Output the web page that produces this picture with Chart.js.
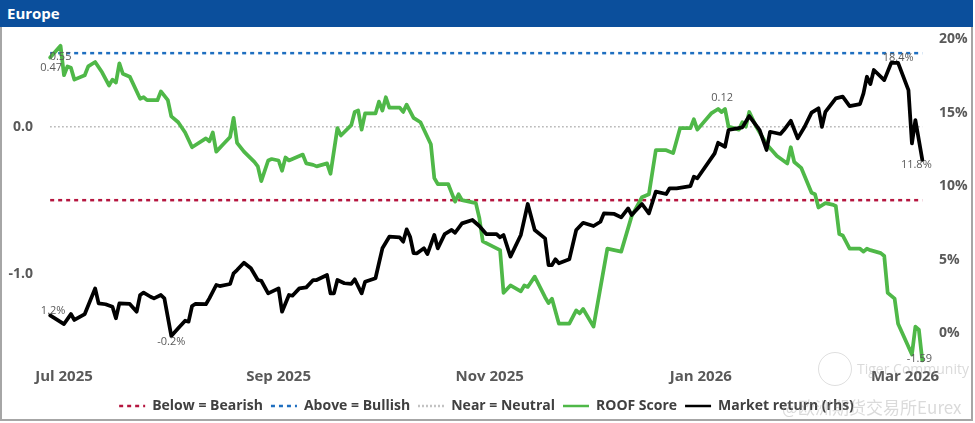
<!DOCTYPE html>
<html>
<head>
<meta charset="utf-8">
<script src="https://cdn.jsdelivr.net/npm/chart.js@4.4.1/dist/chart.umd.min.js"></script>
<style>
  body { margin: 0; background: #fff; }
  #wrap { position: relative; width: 975px; height: 423px; background: #fff; overflow: hidden; }
  #title { position: absolute; left: 0; top: 0; width: 973px; height: 27px; background: #0b4f9c;
           color: #fff; font: bold 15px "Open Sans", sans-serif; line-height: 27px; padding-left: 7px; box-sizing: border-box; }
  #frame { position: absolute; left: 0; top: 27px; width: 973px; height: 394px; border: 2px solid #a6a6a6;
           border-top: none; box-sizing: border-box; }
  #box { position: absolute; left: 2px; top: 27px; width: 969px; height: 396px; }
  #logo { position: absolute; left: 818px; top: 352px; width: 32px; height: 32px; border: 1.5px solid rgba(150,150,150,0.3); border-radius: 50%; }
  #wm1 { position: absolute; left: 857px; top: 359px; white-space: nowrap; font: 14px "Open Sans", sans-serif; color: rgba(150,150,150,0.35); }
  #wm2 { position: absolute; left: 782px; top: 394px; white-space: nowrap; font: 17px "Noto Sans CJK SC", sans-serif; color: rgba(150,150,150,0.35); }
</style>
</head>
<body>
<div id="wrap">
  <div id="title">Europe</div>
  <div id="frame"></div>
  <div id="box"><canvas id="roofChart"></canvas></div>
  <div id="logo"></div>
  <div id="wm1">Tiger Community</div>
  <div id="wm2">@欧洲期货交易所Eurex</div>
</div>
<script>
// days counted from 1 Jul 2025
const roofDays = [-4,-1,0,1,2,3,6,7,9,11,13,14,15,16,17,19,22,23,24,27,28,30,31,33,35,37,41,42,43,44,46,48,49,50,52,55,56,57,59,60,62,63,64,65,69,70,72,73,76,77,79,80,83,84,85,86,87,90,91,92,93,94,97,98,99,101,103,106,107,108,111,113,114,115,119,120,121,126,127,129,132,133,134,136,139,140,141,143,146,148,149,150,153,157,159,161,164,167,169,171,174,176,178,181,182,183,187,189,190,191,192,195,196,197,198,200,203,206,209,210,211,213,216,217,218,220,222,223,224,225,227,230,231,232,233,236,237,238,240,241,245,246,247,248];
const roofScore = [0.47,0.55,0.35,0.41,0.40,0.32,0.35,0.41,0.44,0.37,0.28,0.32,0.30,0.43,0.36,0.34,0.19,0.20,0.18,0.18,0.24,0.18,0.07,0.03,-0.04,-0.14,-0.08,-0.10,-0.04,-0.17,-0.12,-0.07,0.06,-0.11,-0.17,-0.24,-0.27,-0.37,-0.23,-0.22,-0.23,-0.30,-0.21,-0.23,-0.19,-0.25,-0.26,-0.27,-0.25,-0.32,-0.01,-0.06,0.01,0.10,0.11,-0.02,0.09,0.09,0.17,0.11,0.20,0.13,0.13,0.10,0.15,0.06,0.03,-0.12,-0.35,-0.39,-0.39,-0.51,-0.46,-0.50,-0.52,-0.62,-0.78,-0.84,-1.13,-1.08,-1.12,-1.08,-1.09,-1.02,-1.16,-1.20,-1.17,-1.34,-1.34,-1.25,-1.27,-1.24,-1.36,-0.83,-0.84,-0.85,-0.61,-0.48,-0.46,-0.16,-0.16,-0.18,-0.01,-0.01,0.05,-0.02,0.09,0.12,0.10,0.12,0.00,-0.02,0.03,0.00,0.10,0.00,-0.12,-0.20,-0.25,-0.14,-0.24,-0.28,-0.45,-0.46,-0.55,-0.52,-0.53,-0.54,-0.73,-0.74,-0.83,-0.83,-0.85,-0.83,-0.84,-0.86,-0.88,-1.13,-1.17,-1.34,-1.55,-1.36,-1.38,-1.59];

const mktDays = [-4,0,2,3,6,9,10,12,14,15,16,19,21,22,23,25,26,28,29,31,33,35,36,37,38,41,42,44,45,48,49,50,52,54,56,57,59,62,63,65,66,68,70,72,73,76,77,78,79,81,83,84,86,87,90,91,92,94,97,98,99,100,101,102,104,105,107,108,110,112,113,115,118,120,122,125,126,127,129,132,134,136,139,140,141,142,143,146,148,150,153,155,156,159,161,163,164,167,169,171,174,175,177,181,182,183,188,189,191,192,196,198,201,203,204,207,208,210,212,214,216,218,219,220,223,225,227,230,231,232,233,234,237,239,241,244,245,246,248];
const mktReturn = [1.2,0.61,1.29,0.89,1.29,3.04,2.02,1.96,1.79,1.00,2.02,1.98,1.45,2.59,2.75,2.47,2.36,2.59,2.36,-0.2,0.32,0.84,0.77,1.84,1.98,1.96,2.36,3.27,3.20,3.34,4.07,4.29,4.79,4.41,3.61,3.56,2.70,3.04,1.45,2.59,2.54,3.04,3.11,3.61,3.61,3.95,2.70,2.70,3.61,3.39,3.34,3.66,2.70,3.49,3.73,4.75,5.77,6.56,6.52,6.22,7.06,6.56,5.45,5.43,5.77,5.38,6.68,5.77,6.74,7.02,6.83,7.47,7.70,7.29,6.74,6.74,6.52,6.68,5.20,6.68,8.79,7.02,6.45,4.63,4.63,5.02,4.75,5.02,7.02,7.51,7.29,7.58,8.15,8.11,7.88,8.49,8.04,8.79,8.15,9.63,9.47,9.86,9.86,10.01,10.65,10.54,12.24,12.96,12.69,13.83,14.01,14.78,13.83,12.47,13.71,13.56,13.83,14.46,13.26,14.05,15.01,15.31,14.05,15.07,15.99,16.10,15.46,15.60,16.33,17.46,16.96,17.92,17.23,18.4,18.4,16.55,12.92,14.51,11.8];

const bearishLevel = -0.5;
const bullishLevel = 0.5;
const neutralLevel = 0;

const tickDays = [0, 62, 123, 184, 243];
const tickLabels = ['Jul 2025', 'Sep 2025', 'Nov 2025', 'Jan 2026', 'Mar 2026'];
const leftTicks = [0, -1];
const rightTicks = [0, 5, 10, 15, 20];

const firstDay = roofDays[0];
const lastDay = roofDays[roofDays.length - 1];
const flat = v => [{ x: firstDay, y: v }, { x: lastDay, y: v }];

const tickFont = { family: 'Open Sans', size: 14, weight: 'bold' };

// value labels drawn next to chosen points
const labelSpecs = [
  { ds: 3, i: 0, dx: 1, dy: 10, fmt: v => v.toFixed(2) },
  { ds: 3, i: 1, dx: 0, dy: 11, fmt: v => v.toFixed(2) },
  { ds: 3, i: 107, dx: 4, dy: -11, fmt: v => v.toFixed(2) },
  { ds: 3, i: 143, dx: -3, dy: -2, fmt: v => v.toFixed(2) },
  { ds: 4, i: 0, dx: 3, dy: -5, fmt: v => v.toFixed(1) + '%' },
  { ds: 4, i: 19, dx: 0, dy: 6, fmt: v => v.toFixed(1) + '%' },
  { ds: 4, i: 134, dx: 0, dy: -5, fmt: v => v.toFixed(1) + '%' },
  { ds: 4, i: 138, dx: -6, dy: 5, fmt: v => v.toFixed(1) + '%' }
];

const pointLabels = {
  id: 'pointLabels',
  afterDatasetsDraw(chart) {
    const ctx = chart.ctx;
    ctx.save();
    ctx.font = '11px "Open Sans"';
    ctx.fillStyle = '#595959';
    ctx.textAlign = 'center';
    ctx.textBaseline = 'middle';
    labelSpecs.forEach(s => {
      const pt = chart.getDatasetMeta(s.ds).data[s.i];
      const v = chart.data.datasets[s.ds].data[s.i].y;
      ctx.fillText(s.fmt(v), pt.x + s.dx, pt.y + s.dy);
    });
    ctx.restore();
  }
};

// keep tick labels from pushing the plot area in
const noPad = s => { s.paddingTop = 0; s.paddingBottom = 0; s.paddingLeft = 0; s.paddingRight = 0; };

const ctx = document.getElementById('roofChart').getContext('2d');
new Chart(ctx, {
  type: 'line',
  data: {
    datasets: [
      { label: 'Below = Bearish', data: flat(bearishLevel), yAxisID: 'y', borderColor: '#b5163f', borderWidth: 2.5, borderDash: [4, 4], borderCapStyle: 'butt', order: 4 },
      { label: 'Above = Bullish', data: flat(bullishLevel), yAxisID: 'y', borderColor: '#1f6fc0', borderWidth: 2.5, borderDash: [4, 4], borderCapStyle: 'butt', order: 3 },
      { label: 'Near = Neutral', data: flat(neutralLevel), yAxisID: 'y', borderColor: '#b0b0b0', borderWidth: 1.5, borderDash: [1.5, 2.5], borderCapStyle: 'butt', order: 2 },
      { label: 'ROOF Score', data: roofDays.map((d, i) => ({ x: d, y: roofScore[i] })), yAxisID: 'y', borderColor: '#4fb848', borderWidth: 3.75, order: 1 },
      { label: 'Market return (rhs)', data: mktDays.map((d, i) => ({ x: d, y: mktReturn[i] })), yAxisID: 'y1', borderColor: '#000000', borderWidth: 3.75, order: 0 }
    ]
  },
  options: {
    responsive: true,
    maintainAspectRatio: false,
    animation: false,
    elements: { point: { radius: 0 }, line: { tension: 0, borderJoinStyle: 'round', borderCapStyle: 'round' } },
    layout: { padding: { top: 6, left: 0, right: 0, bottom: 0 } },
    scales: {
      x: {
        type: 'linear', min: -8.09, max: 250.8,
        grid: { display: false, drawTicks: false }, border: { display: false },
        afterBuildTicks: s => { s.ticks = tickDays.map(v => ({ value: v })); },
        afterFit: s => { s.height = 26; noPad(s); },
        ticks: { autoSkip: false, maxRotation: 0, padding: 3, color: '#595959', font: { family: 'Open Sans', size: 15, weight: 'bold' },
                 callback: v => tickLabels[tickDays.indexOf(v)] }
      },
      y: {
        position: 'left', min: -1.621, max: 0.637,
        grid: { display: false, drawTicks: false }, border: { display: false },
        afterBuildTicks: s => { s.ticks = leftTicks.map(v => ({ value: v })); },
        afterFit: s => { s.width = 34; noPad(s); },
        ticks: { padding: 3, color: '#595959', font: tickFont, callback: v => v.toFixed(1) }
      },
      y1: {
        position: 'right', min: -2.18, max: 20.44,
        grid: { display: false, drawTicks: false }, border: { display: false },
        afterBuildTicks: s => { s.ticks = rightTicks.map(v => ({ value: v })); },
        afterFit: s => { s.width = 39; noPad(s); },
        ticks: { padding: 7, color: '#595959', font: tickFont, callback: v => v + '%' }
      }
    },
    plugins: {
      tooltip: { enabled: false },
      legend: {
        position: 'bottom',
        labels: {
          usePointStyle: true, pointStyle: 'line', pointStyleWidth: 26, padding: 8,
          color: '#404040', font: { family: 'Open Sans', size: 14, weight: 'bold' },
          sort: (a, b) => a.datasetIndex - b.datasetIndex,
          // point-style legend items take the point's style, so copy the line's dash back in
          generateLabels: chart => Chart.defaults.plugins.legend.labels.generateLabels(chart)
            .map(l => {
              const ds = chart.data.datasets[l.datasetIndex];
              return Object.assign(l, { lineWidth: 2.5, lineDash: ds.borderDash || [], lineCap: 'butt', strokeStyle: ds.borderColor });
            })
        }
      }
    }
  },
  plugins: [pointLabels]
});
</script>
</body>
</html>
